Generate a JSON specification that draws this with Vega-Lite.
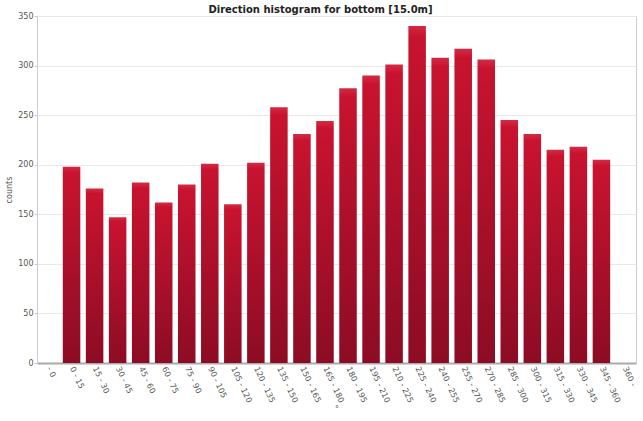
{
  "$schema": "https://vega.github.io/schema/vega-lite/v6.json",
  "width": 599,
  "height": 347,
  "autosize": {"type": "none"},
  "padding": {"left": 37, "top": 16, "right": 7, "bottom": 58},
  "background": "white",
  "title": {
    "text": "Direction histogram for bottom [15.0m]",
    "font": "DejaVu Sans",
    "fontSize": 10,
    "fontWeight": "bold",
    "color": "#222222",
    "anchor": "middle",
    "dx": -16,
    "offset": -3
  },
  "config": {
    "view": {"stroke": "#cccccc", "strokeWidth": 1},
    "axis": {"labelFont": "DejaVu Sans", "titleFont": "DejaVu Sans", "labelColor": "#555555", "titleColor": "#555555", "labelFontSize": 8, "titleFontSize": 8, "titleFontWeight": "normal"}
  },
  "data": {
    "values": [
      {"dir": "0 - 15", "counts": 198},
      {"dir": "15 - 30", "counts": 176},
      {"dir": "30 - 45", "counts": 147},
      {"dir": "45 - 60", "counts": 182},
      {"dir": "60 - 75", "counts": 162},
      {"dir": "75 - 90", "counts": 180},
      {"dir": "90 - 105", "counts": 201},
      {"dir": "105 - 120", "counts": 160},
      {"dir": "120 - 135", "counts": 202},
      {"dir": "135 - 150", "counts": 258},
      {"dir": "150 - 165", "counts": 231},
      {"dir": "165 - 180", "counts": 244},
      {"dir": "180 - 195", "counts": 277},
      {"dir": "195 - 210", "counts": 290},
      {"dir": "210 - 225", "counts": 301},
      {"dir": "225 - 240", "counts": 340},
      {"dir": "240 - 255", "counts": 308},
      {"dir": "255 - 270", "counts": 317},
      {"dir": "270 - 285", "counts": 306},
      {"dir": "285 - 300", "counts": 245},
      {"dir": "300 - 315", "counts": 231},
      {"dir": "315 - 330", "counts": 215},
      {"dir": "330 - 345", "counts": 218},
      {"dir": "345 - 360", "counts": 205}
    ]
  },
  "mark": {
    "type": "bar",
    "color": {
      "gradient": "linear",
      "x1": 0, "y1": 0, "x2": 0, "y2": 1,
      "stops": [
        {"offset": 0, "color": "#d42a44"},
        {"offset": 0.03, "color": "#c8132f"},
        {"offset": 1, "color": "#8c0c24"}
      ]
    }
  },
  "encoding": {
    "x": {
      "field": "dir",
      "type": "nominal",
      "sort": null,
      "scale": {
        "domain": ["- 0", "0 - 15", "15 - 30", "30 - 45", "45 - 60", "60 - 75", "75 - 90", "90 - 105", "105 - 120", "120 - 135", "135 - 150", "150 - 165", "165 - 180", "180 - 195", "195 - 210", "210 - 225", "225 - 240", "240 - 255", "255 - 270", "270 - 285", "285 - 300", "300 - 315", "315 - 330", "330 - 345", "345 - 360", "360 -"],
        "paddingInner": 0.24,
        "paddingOuter": 0.12
      },
      "axis": {
        "title": "°",
        "titlePadding": 2,
        "labelAngle": 65,
        "labelAlign": "left",
        "labelBaseline": "middle",
        "labelPadding": 4,
        "ticks": false,
        "domainColor": "#aaaaaa",
        "domainWidth": 2
      }
    },
    "y": {
      "field": "counts",
      "type": "quantitative",
      "scale": {"domain": [0, 350], "nice": false},
      "axis": {
        "title": "counts",
        "values": [0, 50, 100, 150, 200, 250, 300, 350],
        "tickSize": 3,
        "tickColor": "#cccccc",
        "labelPadding": 1,
        "titlePadding": 4,
        "domainColor": "#cccccc",
        "gridColor": "#e8e8e8"
      }
    }
  }
}
